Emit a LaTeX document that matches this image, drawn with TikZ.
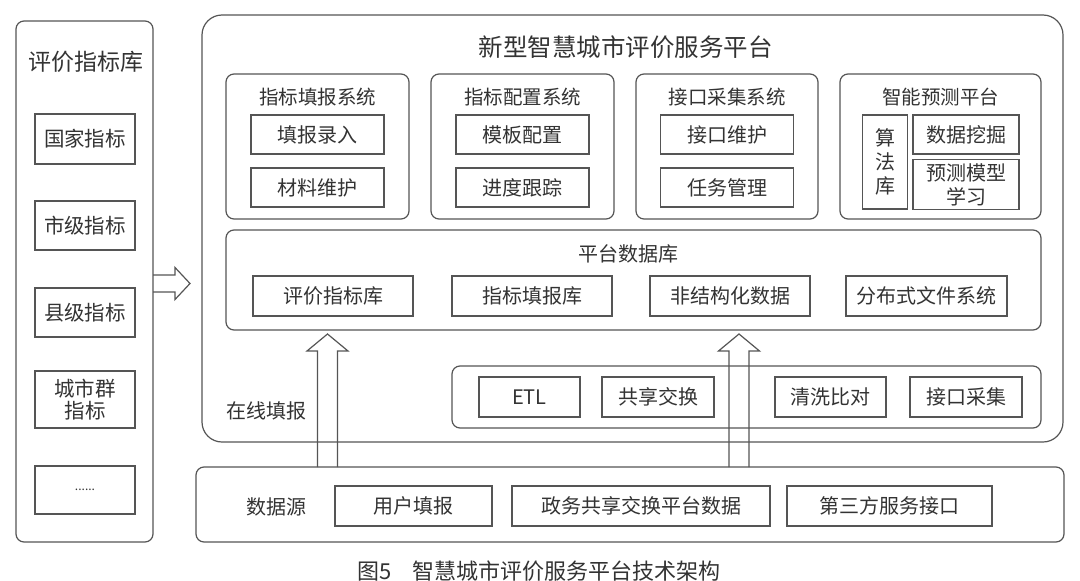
\documentclass[tikz,border=0pt]{standalone}
\usepackage{fontspec}
\setmainfont{Noto Sans CJK SC}
\usetikzlibrary{calc}
\definecolor{ln}{HTML}{555555}
\definecolor{tx}{HTML}{333333}
\newcommand{\fs}[2]{\fontsize{#1}{#2}\selectfont}
\tikzset{
  base/.style={draw=ln, line width=1.2pt, inner sep=0pt, outer sep=0pt, text=tx, align=center},
  panel/.style={base, rounded corners=8pt},
  bigpanel/.style={base, rounded corners=20pt},
  ibox/.style={base, font=\fs{20}{24}},
  lbl/.style={text=tx, inner sep=0pt, align=center},
  hollow/.style={draw=ln, line width=1.2pt, line join=miter},
}
\begin{document}
\begin{tikzpicture}[x=1pt,y=-1pt]
\useasboundingbox[fill=white] (0,0) rectangle (1080,581);

% left panel
\node[panel, minimum width=137, minimum height=521] (left) at (84.5,281.5) {};
\node[lbl, font=\fs{23}{27}] (lefttitle) at (86,62) {评价指标库};
\node[ibox, font=\fs{20.5}{23}, minimum width=100, minimum height=50] (l1) at (85,139) {国家指标};
\node[ibox, font=\fs{20.5}{23}, minimum width=100, minimum height=49] (l2) at (85,225.5) {市级指标};
\node[ibox, font=\fs{20.5}{23}, minimum width=100, minimum height=49] (l3) at (85,312.5) {县级指标};
\node[ibox, font=\fs{20.5}{22}, minimum width=100, minimum height=57] (l4) at (85,399.5) {城市群\\指标};
\node[ibox, font=\fs{12}{14}, minimum width=100, minimum height=48] (l5) at (85,490) {......};

% main panel
\node[bigpanel, minimum width=861, minimum height=427] (main) at (632.5,228.5) {};
\node[lbl, font=\fs{24.5}{28}] (maintitle) at (625.5,47) {新型智慧城市评价服务平台};

% subsystem panels
\node[panel, minimum width=183, minimum height=145] (s1) at (317.5,146.5) {};
\node[panel, minimum width=183, minimum height=145] (s2) at (522.5,146.5) {};
\node[panel, minimum width=182, minimum height=145] (s3) at (727,146.5) {};
\node[panel, minimum width=201, minimum height=145] (s4) at (940.5,146.5) {};
\node[lbl, font=\fs{19.5}{23}] (s1t) at (317.5,97) {指标填报系统};
\node[lbl, font=\fs{19.5}{23}] (s2t) at (522.5,97) {指标配置系统};
\node[lbl, font=\fs{19.5}{23}] (s3t) at (727,97) {接口采集系统};
\node[lbl, font=\fs{19.5}{23}] (s4t) at (940.5,97) {智能预测平台};

\node[ibox, minimum width=133, minimum height=39] (a1) at (317.5,134.5) {填报录入};
\node[ibox, minimum width=133, minimum height=39] (a2) at (317.5,187.5) {材料维护};
\node[ibox, minimum width=133, minimum height=39] (b1) at (522.5,134.5) {模板配置};
\node[ibox, minimum width=133, minimum height=39] (b2) at (522.5,187.5) {进度跟踪};
\node[ibox, minimum width=133, minimum height=39] (c1) at (727,134.5) {接口维护};
\node[ibox, minimum width=133, minimum height=39] (c2) at (727,187.5) {任务管理};
\node[ibox, minimum width=45, minimum height=94] (d0) at (885,162) {算\\法\\库};
\node[ibox, minimum width=106, minimum height=39] (d1) at (966,134.5) {数据挖掘};
\node[ibox, minimum width=106, minimum height=50] (d2) at (966,184.5) {预测模型\\学习};

% platform database
\node[panel, minimum width=815, minimum height=100] (db) at (633.5,280) {};
\node[lbl, font=\fs{20}{24}] (dbt) at (628,254) {平台数据库};
\node[ibox, minimum width=160, minimum height=40] (e1) at (333,296) {评价指标库};
\node[ibox, minimum width=160, minimum height=40] (e2) at (532,296) {指标填报库};
\node[ibox, minimum width=160, minimum height=40] (e3) at (730,296) {非结构化数据};
\node[ibox, minimum width=161, minimum height=40] (e4) at (926.5,296) {分布式文件系统};

% lower exchange panel
\node[panel, minimum width=589, minimum height=62] (ex) at (746.5,397) {};
\node[ibox, minimum width=101, minimum height=40] (f1) at (529.5,397) {ETL};
\node[ibox, minimum width=112, minimum height=40] (f2) at (658,397) {共享交换};
\node[ibox, minimum width=111, minimum height=40] (f3) at (830.5,397) {清洗比对};
\node[ibox, minimum width=112, minimum height=40] (f4) at (966,397) {接口采集};

\node[lbl, font=\fs{20}{24}] (online) at (266,411) {在线填报};

% data source
\node[panel, minimum width=868, minimum height=75] (data) at (630,504.5) {};
\node[lbl, font=\fs{20}{24}] (dst) at (276,507) {数据源};
\node[ibox, minimum width=157, minimum height=40] (g1) at (413.5,506) {用户填报};
\node[ibox, minimum width=258, minimum height=40] (g2) at (641,506) {政务共享交换平台数据};
\node[ibox, minimum width=205, minimum height=40] (g3) at (889.5,506) {第三方服务接口};

% caption
\node[lbl, font=\fs{22}{26}] (cap) at (539,571) {图5\hspace{20pt}智慧城市评价服务平台技术架构};

% hollow up arrows
\coordinate (u1) at (327.5,0);
\coordinate (u2) at (739,0);
\foreach \u in {u1,u2}{
  \draw[hollow] let \p1=(\u |- data.north), \p2=(\u |- db.south) in
    (\x1-10pt,\y1) -- (\x1-10pt,\y2-21pt) -- (\x1-20.5pt,\y2-21pt) -- (\x1,\y2-4pt)
    -- (\x1+20.5pt,\y2-21pt) -- (\x1+10pt,\y2-21pt) -- (\x1+10pt,\y1);
}

% hollow right arrow
\coordinate (ra) at (0,283.5);
\draw[hollow] let \p1=(left.east |- ra), \p2=(main.west |- ra) in
  (\x1,\y1+8.5pt) -- (\x2-27pt,\y1+8.5pt) -- (\x2-27pt,\y1+16pt) -- (\x2-12pt,\y1)
  -- (\x2-27pt,\y1-16pt) -- (\x2-27pt,\y1-8.5pt) -- (\x1,\y1-8.5pt);
\end{tikzpicture}
\end{document}
